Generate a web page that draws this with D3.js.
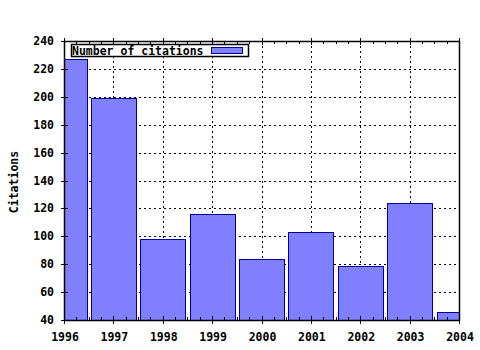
<!DOCTYPE html>
<html>
<head>
<meta charset="utf-8">
<script src="https://cdn.jsdelivr.net/npm/d3@7"></script>
<style>
  body { margin: 0; background: #fff; }
  text { font-family: "DejaVu Sans Mono", monospace; font-weight: bold; font-size: 11.5px; }
</style>
</head>
<body>
<svg width="480" height="350"></svg>
<script>
var years = [1996, 1997, 1998, 1999, 2000, 2001, 2002, 2003, 2004];
var citations = [227, 199, 98, 116, 84, 103, 79, 124, 46];
var yTicks = [40, 60, 80, 100, 120, 140, 160, 180, 200, 220, 240];
var seriesName = "Number of citations";

var data = years.map(function(y, i) { return { year: y, value: citations[i] }; });

var svg = d3.select("svg");
var pl = 64, pr = 459, pt = 41, pb = 320;

var x = d3.scaleLinear().domain([1996, 2004]).range([pl, pr]);
var y = d3.scaleLinear().domain([40, 240]).range([pb, pt]);

// grid
svg.append("g").selectAll("line")
    .data(yTicks.slice(1, -1))
    .enter().append("line")
    .attr("x1", pl).attr("x2", pr)
    .attr("y1", function(d) { return Math.round(y(d)) + 0.5; })
    .attr("y2", function(d) { return Math.round(y(d)) + 0.5; })
    .attr("stroke", "#000").attr("stroke-dasharray", "2,3");

svg.append("g").selectAll("line")
    .data(years.slice(1, -1))
    .enter().append("line")
    .attr("y1", pt).attr("y2", pb)
    .attr("x1", function(d) { return Math.round(x(d)) + 0.5; })
    .attr("x2", function(d) { return Math.round(x(d)) + 0.5; })
    .attr("stroke", "#000").attr("stroke-dasharray", "2,3");

// bars, clipped to the plot area
svg.append("clipPath").attr("id", "plot")
  .append("rect").attr("x", pl).attr("y", pt)
    .attr("width", pr - pl).attr("height", pb - pt);

var bw = (x(1997) - x(1996)) * 0.91;
svg.append("g").attr("clip-path", "url(#plot)")
  .selectAll(".bar")
    .data(data)
    .enter().append("rect")
    .attr("class", "bar")
    .attr("x", function(d) { return Math.round(x(d.year) - bw / 2) + 0.5; })
    .attr("width", Math.round(bw))
    .attr("y", function(d) { return Math.round(y(d.value)) + 0.5; })
    .attr("height", function(d) { return pb - Math.round(y(d.value)) + 2; })
    .attr("fill", "#8080ff")
    .attr("stroke", "#000099")
    .attr("stroke-width", 1);

// frame
svg.append("rect")
    .attr("x", pl + 0.5).attr("y", pt + 0.5)
    .attr("width", pr - pl).attr("height", pb - pt)
    .attr("fill", "none").attr("stroke", "#000").attr("stroke-width", 1.5);

// x ticks (major + quarter minor), inward
var minorX = d3.range(1996, 2004.01, 0.25);
svg.append("g").selectAll("line")
    .data(minorX)
    .enter().append("line")
    .attr("x1", function(d) { return Math.round(x(d)) + 0.5; })
    .attr("x2", function(d) { return Math.round(x(d)) + 0.5; })
    .attr("y1", function(d) { return d % 1 === 0 ? pt - 3 : pt; })
    .attr("y2", function(d) { return d % 1 === 0 ? pt + 4 : pt + 3; })
    .attr("stroke", "#000");
svg.append("g").selectAll("line")
    .data(minorX)
    .enter().append("line")
    .attr("x1", function(d) { return Math.round(x(d)) + 0.5; })
    .attr("x2", function(d) { return Math.round(x(d)) + 0.5; })
    .attr("y1", function(d) { return d % 1 === 0 ? pb + 4 : pb; })
    .attr("y2", function(d) { return d % 1 === 0 ? pb - 4 : pb - 3; })
    .attr("stroke", "#000");

// y ticks
svg.append("g").selectAll("line")
    .data(yTicks)
    .enter().append("line")
    .attr("x1", pl - 3).attr("x2", pl + 4)
    .attr("y1", function(d) { return Math.round(y(d)) + 0.5; })
    .attr("y2", function(d) { return Math.round(y(d)) + 0.5; })
    .attr("stroke", "#000");

// labels
svg.append("g").selectAll("text")
    .data(yTicks)
    .enter().append("text")
    .attr("x", 54).attr("y", function(d) { return y(d) + 4; })
    .attr("text-anchor", "end")
    .text(function(d) { return d; });

svg.append("g").selectAll("text")
    .data(years)
    .enter().append("text")
    .attr("x", function(d) { return x(d) + 1; }).attr("y", 341)
    .attr("text-anchor", "middle")
    .text(function(d) { return d; });

svg.append("text")
    .attr("transform", "translate(18," + 182 + ") rotate(-90)")
    .attr("text-anchor", "middle")
    .text("Citations");

// legend
var lg = svg.append("g");
lg.append("rect").attr("x", 71.5).attr("y", 44.5).attr("width", 177).attr("height", 12)
    .attr("fill", "#fff").attr("stroke", "#000").attr("stroke-width", 1.5);
lg.append("text").attr("x", 72).attr("y", 54.5).text(seriesName);
lg.append("rect").attr("x", 211.5).attr("y", 47.5).attr("width", 31).attr("height", 6)
    .attr("fill", "#8080ff").attr("stroke", "#000099");
</script>
</body>
</html>
